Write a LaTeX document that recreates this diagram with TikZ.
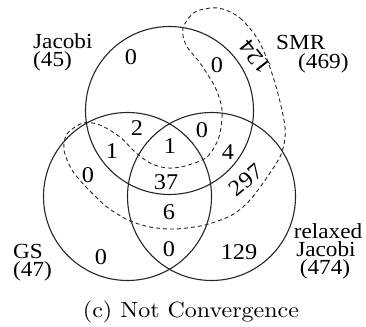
\documentclass[tikz,border=0pt]{standalone}
\usepackage{fontspec}
\usepackage{graphicx}
\newfontfamily\timesf{Liberation Serif}
\newcommand\sx[1]{\scalebox{1.08}[1]{#1}}
\begin{document}
\begin{tikzpicture}[x=1pt,y=-1pt,
  ring/.style={draw=black!85,line width=1.1pt},
  smr/.style={draw=black!85,line width=0.9pt,dash pattern=on 4pt off 3pt},
  num/.style={inner sep=0pt,font=\timesf\fontsize{22.5}{22.5}\selectfont},
  lab/.style={inner sep=0pt,font=\timesf\fontsize{21.5}{21.5}\selectfont},
  captext/.style={inner sep=0pt,font=\fontsize{10}{12}\selectfont}]
\useasboundingbox (0,0) rectangle (366,326);
\draw[ring] (169.5,110.5) circle[radius=84pt];
\draw[ring] (127.5,196.5) circle[radius=84pt];
\draw[ring] (211.5,196.5) circle[radius=84pt];
\draw[smr] plot[smooth cycle] coordinates {
 (218,8) (240,18) (260,43) (275,83) (285,127) (282,152) (270,173) (250,200)
 (232,215) (205,225) (175,229) (150,227) (128,220) (107,207) (87,188) (72,170)
 (64,150) (67,134) (83,123) (100,125) (120,137) (135,152) (150,163) (167,168)
 (185,166) (207,157) (219,137) (222,110) (215,87) (200,63) (186,45) (183,28) (195,12)};
% labels
\node[lab,anchor=base west] (jl1) at (33,49) {\sx{Jacobi}};
\node[lab,anchor=base west] (jl2) at (33,67) {\sx{(45)}};
\node[lab,anchor=base west] (sl1) at (276,50) {\sx{SMR}};
\node[lab,anchor=base west] (sl2) at (298,69) {\sx{(469)}};
\node[lab,anchor=base west] (gl1) at (13,258) {\sx{GS}};
\node[lab,anchor=base west] (gl2) at (13,276) {\sx{(47)}};
\node[lab,anchor=base] (rl1) at (328,238) {\sx{relaxed}};
\node[lab,anchor=base] (rl2) at (326,256) {\sx{Jacobi}};
\node[lab,anchor=base] (rl3) at (325,274) {\sx{(474)}};
% numbers
\node[num] (n1) at (131,57.5) {\sx{0}};
\node[num] (n2) at (217,65) {\sx{0}};
\node[num,rotate=128] (n3) at (255,57) {\sx{124}};
\node[num] (n4) at (137,128) {\sx{2}};
\node[num] (n5) at (112,151) {\sx{1}};
\node[num] (n6) at (170,146) {\sx{1}};
\node[num] (n7) at (202,130) {\sx{0}};
\node[num] (n8) at (228,152) {\sx{4}};
\node[num] (n9) at (88,175) {\sx{0}};
\node[num] (n10) at (166,182) {\sx{37}};
\node[num,rotate=40] (n11) at (246,180) {\sx{297}};
\node[num] (n12) at (169,212) {\sx{6}};
\node[num] (n13) at (101,257.5) {\sx{0}};
\node[num] (n14) at (169,249.5) {\sx{0}};
\node[num] (n15) at (239,252.5) {\sx{129}};
\node[captext,anchor=base] (c) at (191,317) {\scalebox{2.4}[2.2]{(c) Not Convergence}};
\end{tikzpicture}
\end{document}
